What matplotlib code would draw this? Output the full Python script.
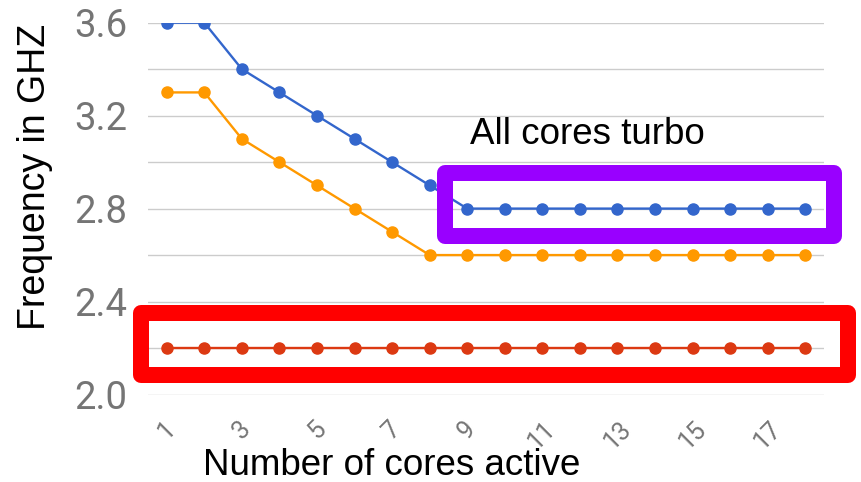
import matplotlib
matplotlib.use("Agg")
import matplotlib.pyplot as plt
from matplotlib.patches import Rectangle

# data
cores = list(range(1, 19))
freq_max_turbo = [3.6, 3.6, 3.4, 3.3, 3.2, 3.1, 3.0, 2.9,
                  2.8, 2.8, 2.8, 2.8, 2.8, 2.8, 2.8, 2.8, 2.8, 2.8]
freq_turbo = [3.3, 3.3, 3.1, 3.0, 2.9, 2.8, 2.7, 2.6,
              2.6, 2.6, 2.6, 2.6, 2.6, 2.6, 2.6, 2.6, 2.6, 2.6]
freq_base = [2.2] * 18
xtick_vals = list(range(1, 19, 2))
ytick_vals = [2.0, 2.4, 2.8, 3.2, 3.6]
grid_vals = [2.0, 2.2, 2.4, 2.6, 2.8, 3.0, 3.2, 3.4, 3.6]

W, H = 862, 482
fig = plt.figure(figsize=(W / 100, H / 100), dpi=100)
ax = fig.add_axes([148 / W, 1 - 394.5 / H, 676 / W, 371.8 / H])

ax.plot(cores, freq_max_turbo, color='#3366cc', lw=1.7, marker='o', ms=8, zorder=3)
ax.plot(cores, freq_turbo, color='#ff9900', lw=1.7, marker='o', ms=8, zorder=3)
ax.plot(cores, freq_base, color='#dc3912', lw=1.7, marker='o', ms=8, zorder=3)

ax.set_xlim(0.5, 18.5)
ax.set_ylim(2.0, 3.6)
for g in grid_vals:
    ax.axhline(g, color='#cccccc', lw=1, zorder=1)
for s in ax.spines.values():
    s.set_visible(False)

ax.set_yticks(ytick_vals)
ax.set_yticklabels(['%.1f' % v for v in ytick_vals], fontsize=27.5,
                   color='#757575', family='Roboto')
ax.set_xticks(xtick_vals)
ax.set_xticklabels([str(v) for v in xtick_vals], fontsize=18, color='#757575',
                   family='Roboto', rotation=45, ha='center', va='top')
ax.tick_params(axis='y', length=0, pad=15)
ax.tick_params(axis='x', length=0, pad=16)

def px(x, y):
    return x / W, 1 - y / H

fig.text(*px(35, 177), 'Frequency in GHZ', rotation=90, ha='center', va='center',
         fontsize=27, family='Liberation Sans')
fig.text(*px(392, 475), 'Number of cores active', ha='center', va='baseline',
         fontsize=26.5, family='Liberation Sans')
fig.text(*px(470, 144), 'All cores turbo', ha='left', va='baseline',
         fontsize=26.5, family='Liberation Sans')

# highlight boxes (pixel coords of the stroke centre line)
def box(x0, y0, x1, y1, color):
    fx0, fy1 = px(x0, y0)
    fx1, fy0 = px(x1, y1)
    r = Rectangle((fx0, fy0), fx1 - fx0, fy1 - fy0, transform=fig.transFigure,
                  fill=False, edgecolor=color, lw=16 * 0.72, joinstyle='round',
                  zorder=10)
    fig.add_artist(r)

box(140.5, 313, 848, 375, '#ff0000')
box(445, 173, 834, 236, '#9900ff')

fig.savefig('out.png', dpi=100)
